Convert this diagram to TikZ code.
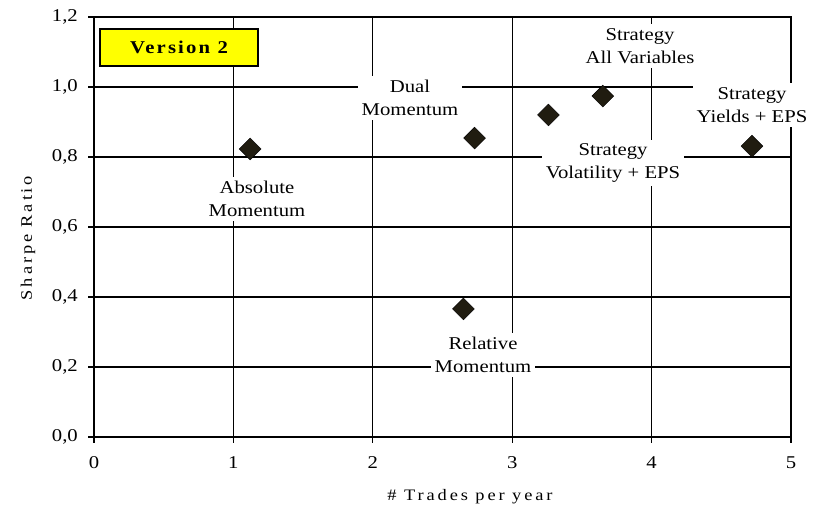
\documentclass[tikz,border=0pt]{standalone}
\usepackage{fontspec}
\setmainfont[FakeStretch=1.15]{Liberation Serif}
\usetikzlibrary{shapes.geometric}
\definecolor{marque}{RGB}{32,28,16}
\definecolor{jaune}{RGB}{255,255,0}

\begin{document}
\begin{tikzpicture}[x=139.4pt, y=350pt]
\tikzset{pnoeud/.style={diamond, draw=black, fill=marque, inner sep=0pt, minimum size=22pt},
  etiq/.style={fill=white, align=center, inner sep=4pt, font=\fontsize{18}{23}\selectfont},
  grad/.style={inner sep=1pt, font=\fontsize{18}{22}\selectfont},
  titre/.style={font=\fontsize{16}{19}\selectfont\addfontfeature{LetterSpace=18}}}
\useasboundingbox (-94pt,-76pt) rectangle (731pt,437pt);
% grille
\foreach \i in {1,...,4}
  \draw[line width=1.2pt] (\i,0) -- (\i,1.2);
\foreach \j in {1,...,5}
  \draw[line width=1.2pt] (0,\j*0.2) -- (5,\j*0.2);
\draw[line width=1.2pt] (0,0) rectangle (5,1.2);
\draw[line width=1.6pt] (0,0) -- (5,0);
% graduations
\foreach \i in {0,...,5} {
  \draw[line width=1.2pt] (\i,0) -- ++(0,-6pt);
  \node[grad] (gx\i) at ([yshift=-26pt]\i,0) {\i};
}
\foreach \j/\a/\b in {0/0/0,1/0/2,2/0/4,3/0/6,4/0/8,5/1/0,6/1/2} {
  \draw[line width=1.2pt] (0,\j*0.2) -- ++(-6pt,0);
  \node[grad, anchor=east] (gy\j) at ([xshift=-15pt]0,\j*0.2) {\a,\b};
}
\node[titre] (tx) at (376pt,-60pt) {\# Trades per year};
\node[titre, rotate=90] (ty) at (-66pt,199pt) {Sharpe Ratio};
% etiquettes
\node[etiq] (E1) at (163pt,238pt) {Absolute\\Momentum};
\node[etiq] (E2) at (316pt,339pt) {Dual\\Momentum};
\node[etiq] (E3) at (546pt,391pt) {Strategy\\All Variables};
\node[etiq] (E4) at (658pt,332pt) {Strategy\\Yields + EPS};
\node[etiq] (E5) at (519pt,274pt) {Strategy\\Volatility + EPS};
\node[etiq] (E6) at (389pt,82pt) {Relative\\Momentum};
\node[draw=black, line width=1.2pt, fill=jaune, minimum width=158pt, minimum height=37pt,
  font=\fontsize{18}{22}\selectfont\bfseries\addfontfeature{LetterSpace=12}] (V) at (85pt,389.5pt) {Version 2};
% points
\node[pnoeud] (P1) at (1.12,0.823) {};
\node[pnoeud] (P2) at (2.73,0.854) {};
\node[pnoeud] (P3) at (3.26,0.92) {};
\node[pnoeud] (P4) at (3.65,0.974) {};
\node[pnoeud] (P5) at (4.72,0.831) {};
\node[pnoeud] (P6) at (2.65,0.366) {};
\end{tikzpicture}
\end{document}
